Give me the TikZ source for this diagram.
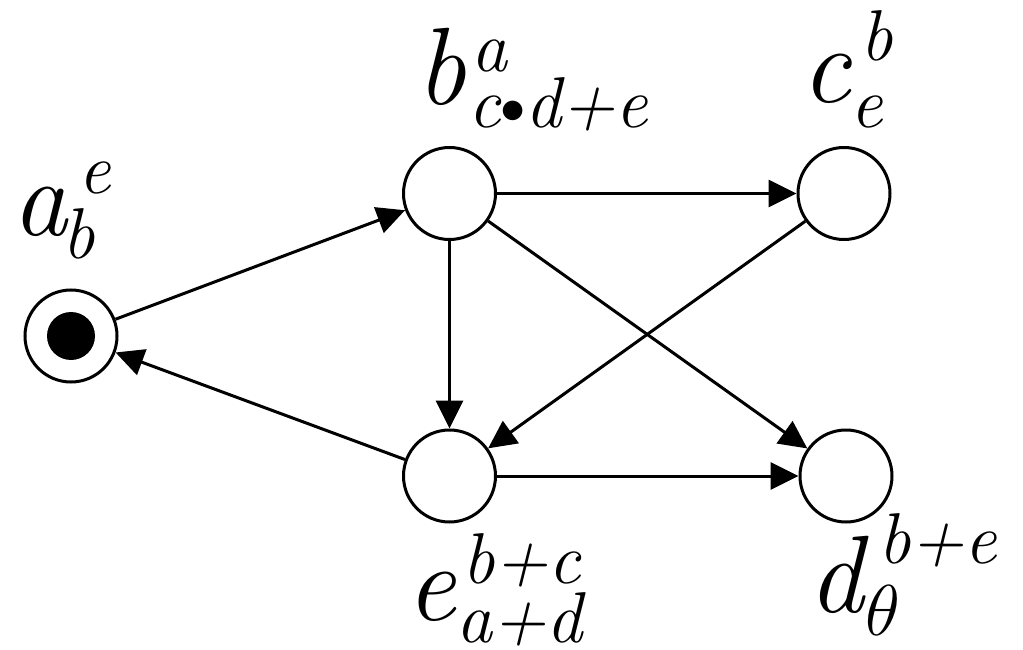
\RequirePackage{fix-cm}
\documentclass[tikz,border=0pt]{standalone}
\usepackage{tikz}
\usetikzlibrary{arrows.meta,positioning}
% place name with raised and lowered indices:
% main, sup, sub, sup x, sup raise, sub x, sub drop
\newcommand{\pname}[7]{%
  \rlap{#1}%
  \rlap{\hspace*{#4pt}\raisebox{#5pt}{\fontsize{72}{72}\selectfont #2}}%
  \hspace*{#6pt}\raisebox{-#7pt}{\fontsize{72}{72}\selectfont #3}}
\newcommand{\dotop}{\raisebox{4pt}{\ensuremath{\scriptstyle\bullet}}}

\begin{document}
\begin{tikzpicture}[x=1pt,y=-1pt,
  place/.style={circle,draw,line width=3pt,minimum size=92pt,inner sep=0pt},
  token/.style={circle,fill,minimum size=48pt,inner sep=0pt},
  arc/.style={-{Triangle[length=28pt,width=27pt]},line width=3pt},
  lbl/.style={anchor=base west,inner sep=0pt,font=\itshape\fontsize{110}{112}\selectfont}]
  \useasboundingbox (0,0) rectangle (1023,650);
  % places
  \node[place] (a) at (71,336) {};
  \node[token] at (a) {};
  \node[place] (b) at (449.5,193.5) {};
  \node[place] (c) at (844,193.5) {};
  \node[place] (e) at (449.5,476) {};
  \node[place] (d) at (846,476) {};
  % labels
  \node[lbl] (la) at (12,235) {\pname{a}{e}{b}{66}{42}{50}{23}};
  \node[lbl] (lb) at (416,105) {\pname{b}{a}{c\dotop d+e}{55}{33}{52}{23}};
  \node[lbl] (lc) at (801,103) {\pname{c}{b}{e}{59}{43}{49}{25}};
  \node[lbl] (le) at (406,620) {\pname{e}{b+c}{a+d}{56}{37}{50}{22}};
  \node[lbl] (ld) at (808,612) {\pname{d}{b+e}{$\theta$}{70}{49}{57}{23}};
  % arcs
  \draw[arc] (a) -- (b);
  \draw[arc] (e) -- (a);
  \draw[arc] (b) -- (c);
  \draw[arc] (b) -- (e);
  \draw[arc] (b) -- (d);
  \draw[arc] (c) -- (e);
  \draw[arc] (e) -- (d);
\end{tikzpicture}
\end{document}
